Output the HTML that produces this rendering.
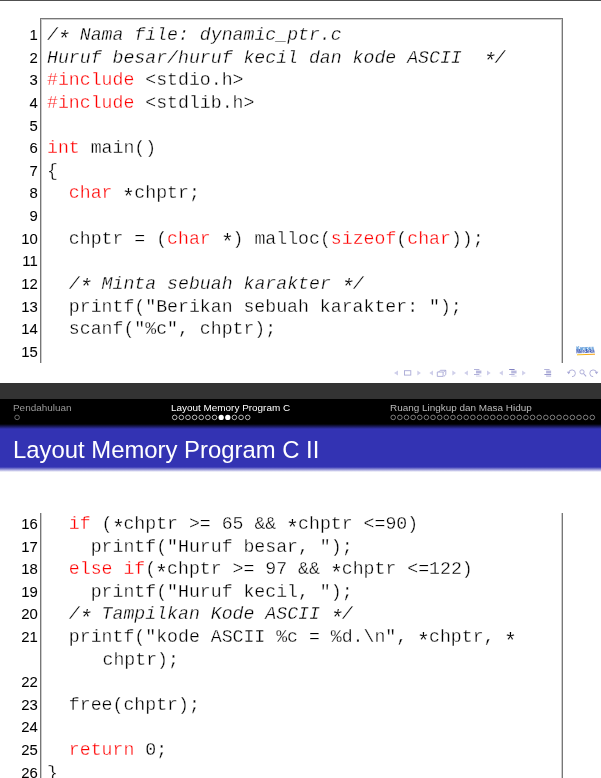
<!DOCTYPE html>
<html lang="id">
<head>
<meta charset="utf-8">
<title>Layout Memory Program C II</title>
<style>
html,body{margin:0;padding:0;background:#fff;}
body{width:601px;height:778px;position:relative;overflow:hidden;font-family:"Liberation Sans",sans-serif;}
.abs{position:absolute;}
.topline{left:0;top:0;width:601px;height:1px;background:#505050;}
.vl{position:absolute;width:2px;}
.vl.l{background:linear-gradient(90deg,#777 0,#777 50%,#ccc 50%,#ccc 100%);}
.vl.r{background:linear-gradient(90deg,#ccc 0,#ccc 50%,#777 50%,#777 100%);}
.hl{position:absolute;height:2px;background:linear-gradient(180deg,#777 0,#777 50%,#ccc 50%,#ccc 100%);}
pre.code{will-change:transform;position:absolute;margin:0;left:47px;font-family:"Liberation Mono",monospace;font-size:18.19px;line-height:22.6px;color:#000;white-space:pre;-webkit-text-stroke:0.3px #fff;}
pre.nums{will-change:transform;position:absolute;margin:0;left:0;width:37.8px;text-align:right;font-family:"Liberation Sans",sans-serif;font-size:14.9px;line-height:22.6px;color:#000;white-space:pre;-webkit-text-stroke:0.06px #000;}
.k{color:#f00;}
.a{display:inline-block;position:relative;top:4.6px;transform:scale(1.18);-webkit-text-stroke:0.15px #fff;}
.c{font-style:italic;}
.band1{left:0;top:383px;width:601px;height:16px;background:#333;}
.band2{left:0;top:399px;width:601px;height:25px;background:#000;}
.band2b{left:0;top:424px;width:601px;height:5px;background:linear-gradient(#000,#3333b3);}
.band3{left:0;top:429px;width:601px;height:38px;background:#3333b3;}
.shadow{left:0;top:467px;width:601px;height:5px;background:linear-gradient(#3333b3,#fff);}
.nav{will-change:transform;position:absolute;font-size:9.94px;line-height:12px;white-space:nowrap;}
.title{will-change:transform;position:absolute;left:12.9px;top:434.9px;font-size:23.86px;line-height:30px;color:#fff;white-space:nowrap;}
.logo{width:20px;height:11px;font-family:"Liberation Sans",sans-serif;font-weight:bold;line-height:1;white-space:nowrap;transform:skewY(-2deg);will-change:transform;}
.logo .k1{position:absolute;left:0.3px;top:2px;font-size:4.6px;color:#2f7fd0;letter-spacing:-0.1px;}
.logo .k2{position:absolute;left:0.3px;top:5px;font-size:4.7px;color:#2340a8;letter-spacing:-0.12px;}
.logo .k3{position:absolute;left:0.5px;top:8.7px;width:18.6px;height:1.4px;background:linear-gradient(90deg,#f6c21a,#f39a10);}
</style>
</head>
<body>
<div class="abs topline"></div>

<!-- slide 1 frame -->
<div class="hl" style="left:40px;top:18px;width:523px;"></div>
<div class="vl l" style="left:40px;top:19px;height:344px;"></div>
<div class="vl r" style="left:561px;top:19px;height:344px;"></div>

<pre class="nums" style="top:23.7px;line-height:22.63px;">1
2
3
4
5
6
7
8
9
10
11
12
13
14
15</pre>
<pre class="code" style="top:23.7px;line-height:22.63px;"><span class="c">/<span class="a">*</span> Nama file: dynamic_ptr.c</span>
<span class="c">Huruf besar/huruf kecil dan kode ASCII  <span class="a">*</span>/</span>
<span class="k">#include</span> &lt;stdio.h&gt;
<span class="k">#include</span> &lt;stdlib.h&gt;

<span class="k">int</span> main()
{
  <span class="k">char</span> <span class="a">*</span>chptr;

  chptr = (<span class="k">char</span> <span class="a">*</span>) malloc(<span class="k">sizeof</span>(<span class="k">char</span>));

  <span class="c">/<span class="a">*</span> Minta sebuah karakter <span class="a">*</span>/</span>
  printf("Berikan sebuah karakter: ");
  scanf("%c", chptr);
</pre>

<svg class="abs" style="left:390px;top:362px;" width="211" height="21" viewBox="390 362 211 21">
<path d="M394 372.9 L398 370.4 L398 375.4 Z" fill="#cfcfea"/><rect x="404.5" y="370.7" width="6.3" height="4.4" fill="none" stroke="#a9a9d6" stroke-width="0.9"/><path d="M420.9 372.9 L417.3 370.4 L417.3 375.4 Z" fill="#cfcfea"/>
<path d="M429.4 372.9 L433 370.4 L433 375.4 Z" fill="#cfcfea"/><path d="M437.3 372.0 h5.8 v4.4 h-5.8 Z M438.7 372.0 l1.6 -1.7 h5.5 v4.3 l-2 1.9 M445.8 370.3 l-2.4 1.7" fill="none" stroke="#a9a9d6" stroke-width="0.9"/><path d="M456 372.9 L452.3 370.4 L452.3 375.4 Z" fill="#cfcfea"/>
<path d="M464.2 372.9 L467.9 370.4 L467.9 375.4 Z" fill="#cfcfea"/><path d="M474.0 369.5 h5.4" stroke="#a9a9d6" stroke-width="0.9" fill="none"/><path d="M476.0 371.2 h5.4" stroke="#8f8fc9" stroke-width="0.9" fill="none"/><path d="M476.0 372.8 h5.4" stroke="#8f8fc9" stroke-width="0.9" fill="none"/><path d="M474.0 374.5 h5.4" stroke="#a9a9d6" stroke-width="0.9" fill="none"/><path d="M476.0 376.1 h5.4" stroke="#cfcfea" stroke-width="0.9" fill="none"/><path d="M490.7 372.9 L487 370.4 L487 375.4 Z" fill="#cfcfea"/>
<path d="M499.2 372.9 L502.9 370.4 L502.9 375.4 Z" fill="#cfcfea"/><path d="M509.2 369.5 h5.4" stroke="#7474bb" stroke-width="0.9" fill="none"/><path d="M511.2 371.2 h5.4" stroke="#8f8fc9" stroke-width="0.9" fill="none"/><path d="M511.2 372.8 h5.4" stroke="#8f8fc9" stroke-width="0.9" fill="none"/><path d="M509.2 374.5 h5.4" stroke="#a9a9d6" stroke-width="0.9" fill="none"/><path d="M511.2 376.1 h5.4" stroke="#cfcfea" stroke-width="0.9" fill="none"/><path d="M525.8 372.9 L522.1 370.4 L522.1 375.4 Z" fill="#cfcfea"/>
<path d="M544.2 369.5 h5.4" stroke="#a9a9d6" stroke-width="0.9" fill="none"/><path d="M546.1 371.2 h5" stroke="#8f8fc9" stroke-width="0.9" fill="none"/><path d="M546.1 372.8 h5" stroke="#8f8fc9" stroke-width="0.9" fill="none"/><path d="M544.4 374.5 h6.8" stroke="#8f8fc9" stroke-width="0.9" fill="none"/><path d="M546.1 376.1 h5" stroke="#a9a9d6" stroke-width="0.9" fill="none"/>
<path d="M568.6 373.09999999999997 a3.4 3.4 0 1 1 3.4 3.6" fill="none" stroke="#a9a9d6" stroke-width="0.9"/><path d="M566.8 371.7 l1.9 2.6 l1.7 -2.5 Z" fill="#a9a9d6"/><circle cx="582" cy="371.9" r="2.1" fill="none" stroke="#a9a9d6" stroke-width="0.9"/><path d="M583.5 373.5 l2.6 2.8" stroke="#a9a9d6" stroke-width="1.1" fill="none"/><path d="M596.6 373.09999999999997 a3.4 3.4 0 1 0 -3.4 3.6" fill="none" stroke="#a9a9d6" stroke-width="0.9"/><path d="M598.4 371.7 l-1.9 2.6 l-1.7 -2.5 Z" fill="#a9a9d6"/>
</svg>
<div class="abs logo" style="left:575.5px;top:345.3px;">
<div class="k1">Kampus</div>
<div class="k2">Merdeka</div>
<div class="k3"></div>
</div>
<!-- header slide 2 -->
<div class="abs band1"></div>
<div class="abs band2"></div>
<div class="abs band2b"></div>
<div class="abs band3"></div>
<div class="abs shadow"></div>
<div class="nav" style="left:13px;top:402px;color:#999;">Pendahuluan</div>
<div class="nav" style="left:171px;top:402px;color:#fff;">Layout Memory Program C</div>
<div class="nav" style="left:390px;top:402px;color:#bbb;">Ruang Lingkup dan Masa Hidup</div>
<svg class="abs" style="left:0;top:399px;" width="601" height="26" viewBox="0 399 601 26">
<circle cx="17.10" cy="417.4" r="2.3" fill="none" stroke="#9a9a9a" stroke-width="0.7"/>
<circle cx="174.70" cy="417.4" r="2.3" fill="none" stroke="#fff" stroke-width="0.7"/>
<circle cx="181.34" cy="417.4" r="2.3" fill="none" stroke="#fff" stroke-width="0.7"/>
<circle cx="187.97" cy="417.4" r="2.3" fill="none" stroke="#fff" stroke-width="0.7"/>
<circle cx="194.61" cy="417.4" r="2.3" fill="none" stroke="#fff" stroke-width="0.7"/>
<circle cx="201.25" cy="417.4" r="2.3" fill="none" stroke="#fff" stroke-width="0.7"/>
<circle cx="207.88" cy="417.4" r="2.3" fill="none" stroke="#fff" stroke-width="0.7"/>
<circle cx="214.52" cy="417.4" r="2.3" fill="none" stroke="#fff" stroke-width="0.7"/>
<circle cx="221.16" cy="417.4" r="2.65" fill="#fff"/>
<circle cx="227.80" cy="417.4" r="2.65" fill="#fff"/>
<circle cx="234.43" cy="417.4" r="2.3" fill="none" stroke="#fff" stroke-width="0.7"/>
<circle cx="241.07" cy="417.4" r="2.3" fill="none" stroke="#fff" stroke-width="0.7"/>
<circle cx="247.71" cy="417.4" r="2.3" fill="none" stroke="#fff" stroke-width="0.7"/>
<circle cx="393.20" cy="417.4" r="2.3" fill="none" stroke="#b0b0b0" stroke-width="0.7"/>
<circle cx="399.84" cy="417.4" r="2.3" fill="none" stroke="#b0b0b0" stroke-width="0.7"/>
<circle cx="406.47" cy="417.4" r="2.3" fill="none" stroke="#b0b0b0" stroke-width="0.7"/>
<circle cx="413.11" cy="417.4" r="2.3" fill="none" stroke="#b0b0b0" stroke-width="0.7"/>
<circle cx="419.75" cy="417.4" r="2.3" fill="none" stroke="#b0b0b0" stroke-width="0.7"/>
<circle cx="426.38" cy="417.4" r="2.3" fill="none" stroke="#b0b0b0" stroke-width="0.7"/>
<circle cx="433.02" cy="417.4" r="2.3" fill="none" stroke="#b0b0b0" stroke-width="0.7"/>
<circle cx="439.66" cy="417.4" r="2.3" fill="none" stroke="#b0b0b0" stroke-width="0.7"/>
<circle cx="446.30" cy="417.4" r="2.3" fill="none" stroke="#b0b0b0" stroke-width="0.7"/>
<circle cx="452.93" cy="417.4" r="2.3" fill="none" stroke="#b0b0b0" stroke-width="0.7"/>
<circle cx="459.57" cy="417.4" r="2.3" fill="none" stroke="#b0b0b0" stroke-width="0.7"/>
<circle cx="466.21" cy="417.4" r="2.3" fill="none" stroke="#b0b0b0" stroke-width="0.7"/>
<circle cx="472.84" cy="417.4" r="2.3" fill="none" stroke="#b0b0b0" stroke-width="0.7"/>
<circle cx="479.48" cy="417.4" r="2.3" fill="none" stroke="#b0b0b0" stroke-width="0.7"/>
<circle cx="486.12" cy="417.4" r="2.3" fill="none" stroke="#b0b0b0" stroke-width="0.7"/>
<circle cx="492.75" cy="417.4" r="2.3" fill="none" stroke="#b0b0b0" stroke-width="0.7"/>
<circle cx="499.39" cy="417.4" r="2.3" fill="none" stroke="#b0b0b0" stroke-width="0.7"/>
<circle cx="506.03" cy="417.4" r="2.3" fill="none" stroke="#b0b0b0" stroke-width="0.7"/>
<circle cx="512.67" cy="417.4" r="2.3" fill="none" stroke="#b0b0b0" stroke-width="0.7"/>
<circle cx="519.30" cy="417.4" r="2.3" fill="none" stroke="#b0b0b0" stroke-width="0.7"/>
<circle cx="525.94" cy="417.4" r="2.3" fill="none" stroke="#b0b0b0" stroke-width="0.7"/>
<circle cx="532.58" cy="417.4" r="2.3" fill="none" stroke="#b0b0b0" stroke-width="0.7"/>
<circle cx="539.21" cy="417.4" r="2.3" fill="none" stroke="#b0b0b0" stroke-width="0.7"/>
<circle cx="545.85" cy="417.4" r="2.3" fill="none" stroke="#b0b0b0" stroke-width="0.7"/>
<circle cx="552.49" cy="417.4" r="2.3" fill="none" stroke="#b0b0b0" stroke-width="0.7"/>
<circle cx="559.12" cy="417.4" r="2.3" fill="none" stroke="#b0b0b0" stroke-width="0.7"/>
<circle cx="565.76" cy="417.4" r="2.3" fill="none" stroke="#b0b0b0" stroke-width="0.7"/>
<circle cx="572.40" cy="417.4" r="2.3" fill="none" stroke="#b0b0b0" stroke-width="0.7"/>
<circle cx="579.04" cy="417.4" r="2.3" fill="none" stroke="#b0b0b0" stroke-width="0.7"/>
<circle cx="585.67" cy="417.4" r="2.3" fill="none" stroke="#b0b0b0" stroke-width="0.7"/>
<circle cx="592.31" cy="417.4" r="2.3" fill="none" stroke="#b0b0b0" stroke-width="0.7"/>
</svg>
<div class="title">Layout Memory Program C II</div>

<!-- slide 2 frame -->
<div class="vl l" style="left:40px;top:513px;height:265px;"></div>
<div class="vl r" style="left:561px;top:513px;height:265px;"></div>

<pre class="nums" style="top:512.6px;">16
17
18
19
20
21

22
23
24
25
26</pre>
<pre class="code" style="top:512.6px;">  <span class="k">if</span> (<span class="a">*</span>chptr &gt;= 65 &amp;&amp; <span class="a">*</span>chptr &lt;=90)
    printf("Huruf besar, ");
  <span class="k">else if</span>(<span class="a">*</span>chptr &gt;= 97 &amp;&amp; <span class="a">*</span>chptr &lt;=122)
    printf("Huruf kecil, ");
  <span class="c">/<span class="a">*</span> Tampilkan Kode ASCII <span class="a">*</span>/</span>
  printf("kode ASCII %c = %d.\n", <span class="a">*</span>chptr, <span class="a">*</span>
     <span style="position:relative;left:0.9px;">chptr);</span>

  free(chptr);

  <span class="k">return</span> 0;
}</pre>
</body>
</html>
